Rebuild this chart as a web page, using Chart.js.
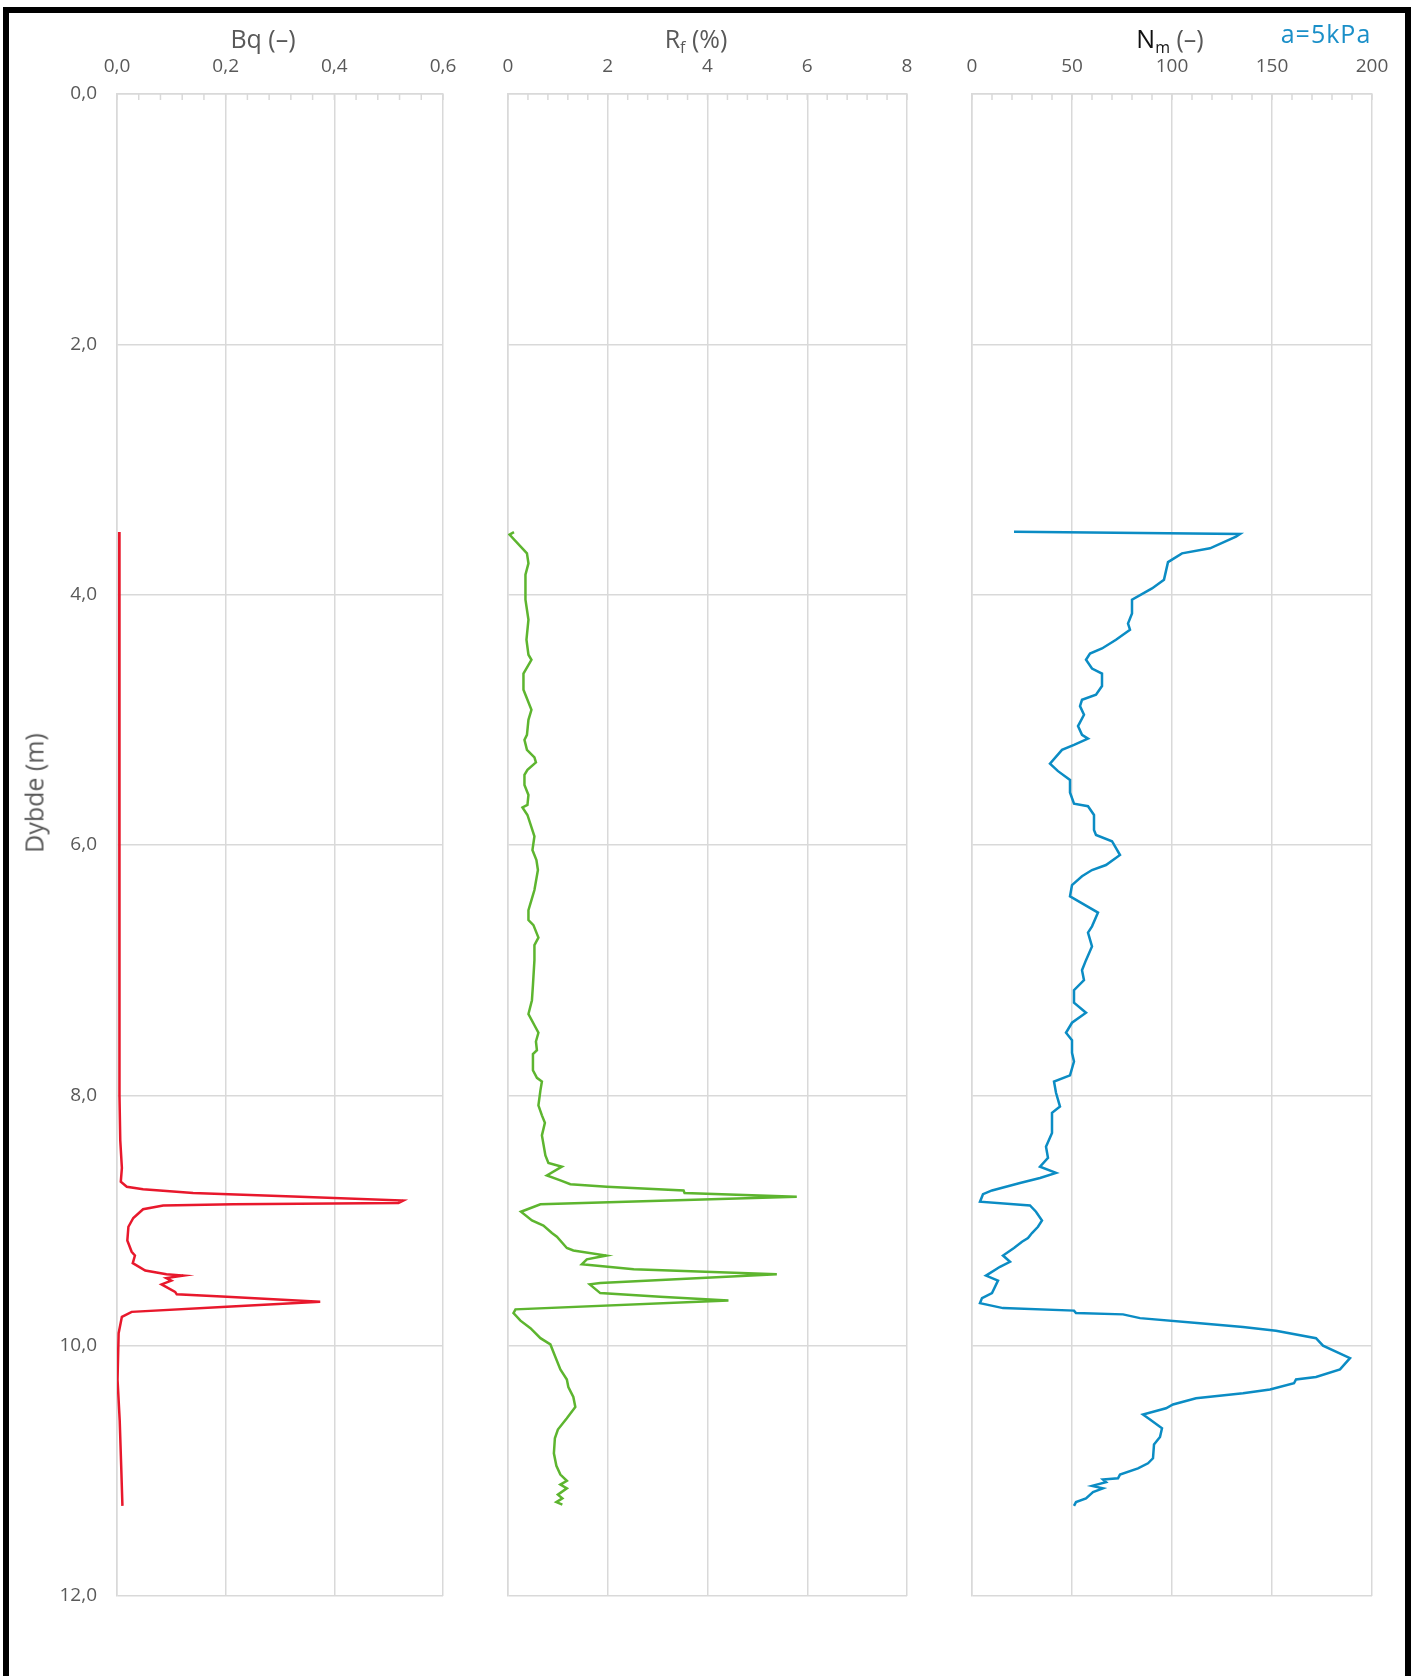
<!DOCTYPE html>
<html>
<head>
<meta charset="utf-8">
<script src="https://cdn.jsdelivr.net/npm/chart.js@4.4.1/dist/chart.umd.min.js"></script>
<style>
  html, body { margin: 0; padding: 0; background: #fff; }
  #page { position: relative; width: 1411px; height: 1676px; overflow: hidden; font-family: "Open Sans", sans-serif; }
  #frame { position: absolute; left: 3px; top: 7px; width: 1408px; height: 1720px; border: 6px solid #000; border-bottom: none; box-sizing: border-box; }
  canvas { position: absolute; top: 0; }
  .txt { position: absolute; transform: translate(-50%, -50%); line-height: 1; white-space: nowrap; color: #595959; font-size: 25px; }
  .txt sub { font-size: 16px; position: relative; top: 0.3em; vertical-align: baseline; line-height: 0; }
</style>
</head>
<body>
<div id="page">
  <div id="frame"></div>
  <canvas id="bq" width="475" height="1676" style="left:0"></canvas>
  <canvas id="rf" width="470" height="1676" style="left:470px"></canvas>
  <canvas id="nm" width="471" height="1676" style="left:940px"></canvas>
  <div class="txt" style="left:263px; top:38px">Bq (–)</div>
  <div class="txt" style="left:696px; top:38px">R<sub>f</sub> (%)</div>
  <div class="txt" style="left:1170px; top:38px"><span style="color:#111">N<sub>m</sub></span> (–)</div>
  <div class="txt" style="left:1326px; top:33px; color:#1a8fc8; letter-spacing:1px">a=5kPa</div>
  <div class="txt" style="left:34px; top:793px; transform: translate(-50%, -50%) rotate(-90deg)">Dybde (m)</div>
</div>
<script>
// depth axis
const depthTicks = [0, 2, 4, 6, 8, 10, 12];
const depthTickLabels = ['0,0', '2,0', '4,0', '6,0', '8,0', '10,0', '12,0'];

// Bq (-)
const bqTicks = [0, 0.2, 0.4, 0.6];
const bqTickLabels = ['0,0', '0,2', '0,4', '0,6'];
const bqDepth = [3.50, 4.00, 4.50, 5.00, 5.40, 6.00, 6.50, 7.00, 7.50, 8.00,
  8.36, 8.58, 8.69, 8.73, 8.75, 8.78, 8.81, 8.84, 8.86, 8.87,
  8.88, 8.91, 8.98, 9.05, 9.16, 9.25, 9.28, 9.34, 9.40, 9.43,
  9.44, 9.46, 9.48, 9.51, 9.57, 9.59, 9.61, 9.65, 9.69, 9.73,
  9.77, 9.90, 10.27, 10.60, 11.00, 11.28];
const bqValue = [0.004, 0.005, 0.005, 0.005, 0.004, 0.004, 0.005, 0.004, 0.004, 0.005,
  0.006, 0.009, 0.007, 0.018, 0.048, 0.140, 0.337, 0.527, 0.518, 0.214,
  0.085, 0.048, 0.030, 0.021, 0.019, 0.027, 0.033, 0.029, 0.052, 0.091,
  0.122, 0.091, 0.100, 0.082, 0.107, 0.110, 0.202, 0.374, 0.202, 0.027,
  0.009, 0.003, 0.001, 0.005, 0.008, 0.010];

// Rf (%)
const rfTicks = [0, 2, 4, 6, 8];
const rfTickLabels = ['0', '2', '4', '6', '8'];
const rfDepth = [3.50, 3.52, 3.67, 3.75, 3.84, 4.04, 4.20, 4.36, 4.48, 4.52,
  4.63, 4.76, 4.80, 4.92, 5.00, 5.12, 5.16, 5.24, 5.30, 5.34,
  5.40, 5.44, 5.52, 5.60, 5.68, 5.70, 5.76, 5.93, 6.04, 6.12,
  6.20, 6.36, 6.44, 6.52, 6.60, 6.64, 6.74, 6.80, 6.92, 7.12,
  7.24, 7.35, 7.44, 7.50, 7.57, 7.64, 7.67, 7.80, 7.86, 7.89,
  7.96, 8.08, 8.16, 8.22, 8.32, 8.48, 8.54, 8.57, 8.64, 8.68,
  8.71, 8.73, 8.76, 8.78, 8.81, 8.87, 8.93, 9.00, 9.04, 9.10,
  9.13, 9.22, 9.24, 9.28, 9.31, 9.35, 9.39, 9.43, 9.50, 9.51,
  9.57, 9.58, 9.61, 9.64, 9.71, 9.74, 9.80, 9.86, 9.94, 9.99,
  10.09, 10.19, 10.27, 10.33, 10.41, 10.49, 10.58, 10.67, 10.74, 10.86,
  10.96, 11.03, 11.08, 11.11, 11.14, 11.19, 11.22, 11.25, 11.27];
const rfValue = [0.12, 0.03, 0.38, 0.41, 0.35, 0.35, 0.41, 0.37, 0.41, 0.47,
  0.31, 0.31, 0.35, 0.47, 0.41, 0.38, 0.33, 0.38, 0.53, 0.56,
  0.39, 0.33, 0.33, 0.41, 0.39, 0.29, 0.39, 0.53, 0.49, 0.57,
  0.60, 0.53, 0.47, 0.41, 0.41, 0.51, 0.61, 0.53, 0.53, 0.50,
  0.48, 0.41, 0.53, 0.61, 0.56, 0.58, 0.50, 0.50, 0.58, 0.68,
  0.65, 0.61, 0.68, 0.74, 0.68, 0.75, 0.81, 1.08, 0.78, 1.05,
  1.25, 1.98, 3.52, 3.54, 5.79, 0.65, 0.26, 0.48, 0.71, 0.88,
  0.98, 1.18, 1.31, 1.97, 1.58, 1.48, 2.52, 5.39, 1.85, 1.64,
  1.82, 1.85, 3.05, 4.42, 0.15, 0.11, 0.25, 0.45, 0.65, 0.85,
  0.95, 1.05, 1.18, 1.21, 1.31, 1.35, 1.18, 1.00, 0.94, 0.92,
  0.97, 1.05, 1.18, 1.05, 1.18, 1.00, 1.09, 0.97, 1.09];

// Nm (-)
const nmTicks = [0, 50, 100, 150, 200];
const nmTickLabels = ['0', '50', '100', '150', '200'];
const nmDepth = [3.497, 3.515, 3.536, 3.63, 3.67, 3.74, 3.88, 3.95, 4.04, 4.15,
  4.23, 4.28, 4.36, 4.43, 4.47, 4.52, 4.59, 4.63, 4.73, 4.80,
  4.84, 4.89, 4.96, 5.05, 5.12, 5.15, 5.20, 5.24, 5.35, 5.41,
  5.48, 5.58, 5.67, 5.69, 5.76, 5.88, 5.92, 5.97, 6.08, 6.16,
  6.20, 6.25, 6.32, 6.41, 6.54, 6.65, 6.70, 6.81, 6.92, 7.00,
  7.08, 7.16, 7.26, 7.34, 7.42, 7.50, 7.56, 7.66, 7.73, 7.84,
  7.89, 7.98, 8.09, 8.14, 8.30, 8.41, 8.50, 8.57, 8.62, 8.66,
  8.70, 8.76, 8.79, 8.85, 8.88, 8.93, 9.00, 9.05, 9.10, 9.14,
  9.17, 9.22, 9.28, 9.33, 9.37, 9.44, 9.48, 9.58, 9.62, 9.66,
  9.70, 9.72, 9.74, 9.75, 9.78, 9.82, 9.85, 9.88, 9.94, 10.00,
  10.10, 10.19, 10.25, 10.27, 10.30, 10.35, 10.38, 10.42, 10.47, 10.50,
  10.55, 10.59, 10.66, 10.73, 10.79, 10.90, 10.94, 10.98, 11.03, 11.06,
  11.07, 11.09, 11.12, 11.14, 11.17, 11.22, 11.25, 11.28];
const nmValue = [21, 134, 132, 119, 105, 98, 96, 90, 80, 80,
  78, 79, 72, 65, 59, 57, 60, 65, 65, 62,
  55, 54, 56, 53, 55, 58, 51, 45, 39, 43,
  49, 49, 51, 58, 61, 61, 62, 70, 74, 67,
  60, 55, 50, 49, 63, 60, 58, 60, 57, 55,
  56, 51, 51, 57, 50, 47, 50, 50, 51, 49,
  41, 42, 44, 40, 40, 37, 38, 34, 42, 34,
  24, 10, 5.5, 4, 29, 32, 35, 33, 30, 28,
  25, 21, 15.5, 19, 14, 7, 13, 10, 5, 4,
  15.5, 51, 52, 75.5, 84, 114, 135.5, 152, 172, 175.5,
  189, 184, 172, 162, 161, 149, 135.5, 112, 100.5, 97,
  85.5, 89, 95, 94, 91, 90.5, 88, 83, 74, 73,
  65.5, 67, 60, 65.5, 60.5, 57, 52, 51];

const gridColor = '#d9d9d9';
const tickFont = { family: 'Open Sans', size: 19 };

// look a tick label up by its value (reverse axes reorder the tick list)
function labelFor(values, labels, v) {
  const i = values.findIndex(t => Math.abs(t - v) < 1e-6);
  return i < 0 ? '' : labels[i];
}

// short tick marks hanging from the top axis
const minorTicks = {
  id: 'minorTicks',
  beforeDatasetsDraw(chart, args, opts) {
    const { ctx, chartArea, scales: { x } } = chart;
    ctx.save();
    ctx.strokeStyle = gridColor;
    ctx.lineWidth = 1.5;
    for (let v = x.min; v <= x.max + 1e-9; v += opts.step) {
      const px = x.getPixelForValue(v);
      ctx.beginPath();
      ctx.moveTo(px, chartArea.top);
      ctx.lineTo(px, chartArea.top + 6);
      ctx.stroke();
    }
    ctx.restore();
  }
};

function makePanel(id, cfg) {
  return new Chart(document.getElementById(id), {
    type: 'scatter',
    data: {
      datasets: [{
        data: cfg.depths.map((d, i) => ({ x: cfg.values[i], y: d })),
        showLine: true,
        borderColor: cfg.color,
        borderWidth: 2.5,
        pointRadius: 0,
        tension: 0
      }]
    },
    options: {
      responsive: false,
      animation: false,
      layout: { padding: { top: 0, left: 0, right: cfg.padRight, bottom: 80 } },
      plugins: {
        legend: { display: false },
        tooltip: { enabled: false },
        minorTicks: { step: cfg.minor }
      },
      scales: {
        x: {
          type: 'linear',
          position: 'top',
          min: 0,
          max: cfg.ticks[cfg.ticks.length - 1],
          ticks: {
            stepSize: cfg.ticks[1] - cfg.ticks[0],
            padding: 16,
            color: '#595959',
            font: tickFont,
            maxRotation: 0,
            autoSkip: false,
            callback: v => labelFor(cfg.ticks, cfg.tickLabels, v)
          },
          grid: { color: gridColor, lineWidth: 1.5, drawTicks: false },
          border: { color: gridColor, width: 1.5 },
          afterFit: s => { s.height = 94; }
        },
        y: {
          type: 'linear',
          reverse: true,
          min: 0,
          max: 12,
          ticks: {
            stepSize: 2,
            display: cfg.showDepth,
            padding: 20,
            color: '#595959',
            font: tickFont,
            callback: v => labelFor(depthTicks, depthTickLabels, v)
          },
          grid: { color: gridColor, lineWidth: 1.5, drawTicks: false },
          border: { color: gridColor, width: 1.5 },
          afterFit: s => { s.width = cfg.left; }
        }
      }
    },
    plugins: [minorTicks]
  });
}

makePanel('bq', { depths: bqDepth, values: bqValue, color: '#e8182c', minor: 0.04,
  ticks: bqTicks, tickLabels: bqTickLabels, left: 117, padRight: 32, showDepth: true });
makePanel('rf', { depths: rfDepth, values: rfValue, color: '#5db52f', minor: 0.4,
  ticks: rfTicks, tickLabels: rfTickLabels, left: 38, padRight: 33, showDepth: false });
makePanel('nm', { depths: nmDepth, values: nmValue, color: '#0b8cc4', minor: 10,
  ticks: nmTicks, tickLabels: nmTickLabels, left: 32, padRight: 39, showDepth: false });
</script>
</body>
</html>
